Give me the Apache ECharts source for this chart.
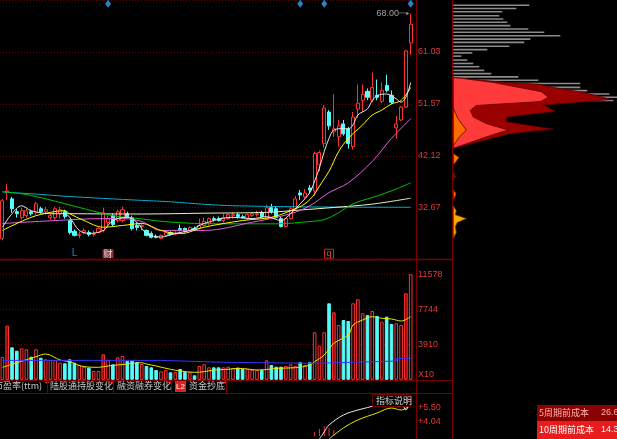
<!DOCTYPE html>
<html><head><meta charset="utf-8">
<script src="https://cdn.jsdelivr.net/npm/echarts@6/dist/echarts.min.js"></script>
<style>html,body{margin:0;padding:0;background:#000;}#c{width:617px;height:439px;}</style>
</head><body><div id="c"></div><script>
// ---------------- data ----------------
const opens = [27.10,35.54,34.28,31.95,30.87,31.23,31.95,31.77,32.49,31.95,
 30.87,30.87,31.59,31.95,30.34,28.36,27.64,28.18,28.18,27.82,
 28.18,28.54,29.98,31.23,30.34,30.34,31.59,30.87,29.44,29.26,
 28.54,28.00,27.46,27.10,27.64,28.18,27.82,28.90,28.90,28.54,
 28.90,28.90,29.44,29.80,30.69,30.69,30.34,30.69,31.23,31.41,
 31.05,30.69,31.23,31.41,31.77,30.69,32.67,32.49,30.69,29.26,
 30.69,32.49,35.36,34.64,36.26,35.72,40.57,44.34,50.08,46.49,
 45.59,47.93,47.03,43.80,50.62,52.24,53.85,52.24,53.13,52.06,
 54.93,53.13,47.21,48.64,50.98,62.65];
const closes = [33.93,35.72,32.49,31.59,32.13,32.13,31.59,33.39,31.95,32.31,
 31.23,32.49,32.31,31.05,28.18,27.64,27.82,28.54,27.82,28.00,
 28.90,31.77,30.69,29.62,31.95,32.31,31.05,28.90,29.08,29.44,
 27.64,27.28,27.28,27.64,28.18,27.82,28.00,28.72,28.36,29.08,
 28.72,29.44,30.16,30.69,30.52,30.34,30.87,31.41,31.41,31.05,
 30.87,31.41,31.59,31.59,31.05,32.67,31.95,30.87,29.26,30.69,
 32.49,34.28,35.00,35.36,35.90,42.54,42.72,50.80,47.57,47.03,
 47.57,46.13,44.34,49.18,51.70,53.31,52.77,54.57,52.77,54.03,
 54.03,51.88,47.93,50.98,61.21,66.06];
const lows = [26.74,34.10,31.77,30.87,30.52,30.87,31.23,31.41,31.59,31.41,
 30.52,30.52,30.69,30.69,27.82,27.46,27.10,27.82,27.46,27.46,
 28.00,28.18,29.26,29.26,29.98,29.98,30.69,28.54,28.54,28.54,
 27.46,27.10,27.10,26.92,27.46,27.64,27.64,28.36,28.18,28.36,
 28.54,28.72,29.26,29.44,30.16,30.16,29.98,30.52,30.69,30.69,
 30.69,30.52,31.05,31.05,30.87,30.52,31.59,30.69,29.08,29.08,
 30.52,32.31,34.10,34.28,35.18,34.82,39.31,43.62,46.85,45.59,
 43.80,45.77,43.44,43.26,49.00,50.08,52.24,51.88,52.24,51.70,
 53.67,51.52,45.24,48.46,50.80,60.49];
const highs = [34.28,36.98,34.64,32.49,32.67,32.49,32.31,33.75,32.85,32.85,
 31.59,32.85,32.85,32.31,30.52,28.72,28.36,28.90,28.54,28.54,
 29.08,32.67,31.23,31.59,32.31,32.85,31.95,31.23,29.98,29.98,
 28.72,28.36,27.82,27.82,28.54,28.36,28.36,29.62,29.08,29.26,
 29.26,30.69,30.87,30.87,31.05,31.05,31.59,31.59,31.77,31.77,
 31.41,31.59,31.77,32.13,32.13,33.21,33.39,32.85,31.05,30.87,
 32.85,34.82,35.90,36.08,36.80,42.90,43.08,51.34,50.44,53.31,
 48.64,48.64,47.39,50.08,55.11,55.11,54.39,57.26,56.00,55.46,
 56.90,54.03,49.36,51.16,61.39,68.00];
const volumes = [2519,5947,3581,3209,3472,3362,2552,3362,2442,2267,
 2190,2190,1894,1829,2267,1894,1642,1456,1347,985,
 985,2815,2190,1719,2486,2628,2113,2113,1971,1752,
 1533,1390,1095,952,1095,843,876,1204,876,843,
 514,1533,1719,1390,1390,1390,1390,1456,1281,1347,
 1204,1204,1095,1095,1095,2157,1642,1456,1456,1533,
 1719,1533,1938,1642,1938,5224,3757,5224,8401,7415,
 6024,6572,6462,8401,8839,7306,7119,7558,7010,6386,
 6933,6134,6210,6024,9496,11578];
const darkVolIdx = [1,21,69,84];
const categories = opens.map((_, i) => 'K' + (i + 1));

// moving averages: [categoryIndex, value]
const ma5 = [[0,29.13],[2,31.59],[4,33.03],[6,32.13],[10,31.59],[13,31.59],[14,30.93],[16,28.54],[18,28.00],[21,28.54],[23,30.34],[26,30.93],[28,30.03],[30,28.00],[33,27.34],[36,28.00],[39,28.54],[42,29.80],[48,30.93],[52,30.69],[55,31.05],[58,30.34],[60,31.59],[62,33.39],[64,35.42],[65,37.52],[66,39.90],[67,42.90],[68,45.29],[69,46.80],[71,47.08],[72,47.00],[73,47.75],[74,49.54],[76,50.67],[77,52.18],[78,53.08],[80,53.37],[82,52.47],[83,51.88],[84,52.77],[85,55.46]];
const ma10 = [[0,28.54],[6,30.93],[10,31.83],[13,32.13],[14,31.59],[17,30.34],[21,29.13],[25,29.44],[29,29.80],[33,28.54],[37,27.95],[42,29.13],[50,30.34],[56,30.93],[60,32.13],[63,33.39],[65,35.18],[66,36.62],[68,39.31],[70,42.90],[72,45.29],[75,47.75],[77,49.54],[79,50.44],[81,51.57],[83,52.18],[85,54.57]];
const ma20 = [[0,29.80],[11,30.34],[21,30.69],[25,30.69],[29,30.16],[33,28.54],[42,28.54],[52,30.03],[60,31.59],[64,33.03],[68,35.42],[72,37.21],[77,41.11],[81,45.29],[85,48.88]];
const ma60 = [[0,35.60],[6,34.90],[16,32.72],[23,31.23],[29,30.64],[35,30.05],[45,29.74],[57,29.74],[64,30.16],[67,30.52],[70,31.77],[73,33.39],[78,34.82],[82,36.08],[85,37.21]];
const ma120 = [[0,35.54],[8,35.09],[12,34.82],[21,34.37],[29,34.01],[35,33.75],[42,33.30],[48,33.03],[69,32.79],[85,32.76]];
const ma250 = [[13,31.59],[29,31.53],[42,31.68],[55,31.83],[62,32.26],[69,32.72],[77,33.33],[85,34.41]];
const volMa5 = [[0,1390],[7,2552],[9,2847],[12,2190],[14,2004],[17,1456],[20,1390],[22,1533],[26,1752],[29,1894],[30,1752],[32,1533],[35,1171],[37,985],[40,843],[42,909],[44,1095],[47,1171],[49,1281],[51,1204],[53,1095],[56,1204],[57,1281],[61,1347],[64,1642],[65,2004],[67,2738],[69,4019],[72,4929],[73,6024],[75,6572],[77,6933],[79,6758],[81,6681],[83,6462],[85,6933]];
const volMaW = [[0,2150],[33,1938],[46,1829],[65,1938],[73,2080],[82,2376],[85,2376]];
const indWhite = [[66,2.27],[67,3.0],[68,3.73],[71,4.77],[74,5.29],[78,5.81],[81,6.33],[83,6.12],[84,5.29],[85,6.54]];
const indYellow = [[68,2.27],[71,3.42],[74,4.25],[78,4.98],[81,5.50],[83,5.29],[85,5.81]];
const indBars = [[65,3.0],[66,3.3],[67,3.6],[68,3.4],[69,3.2]];

const priceTickLabels = ['32.67','42.12','51.57','61.03'];
const volTickLabels = ['X10','3910','7744','11578'];
const indTickLabels = ['+4.04','+5.50'];

// chip distribution (right panel): price levels and widths
const chipGrayPrice = [69.52,68.93,68.34,67.62,67.01,66.42,65.82,65.21,64.62,63.96,63.36,62.77,62.05,61.44,60.85,60.26,59.54,58.93,58.34,57.67,57.08,56.49,55.88,55.29,54.57,53.98,53.37,52.77,52.18];
const chipGrayWidth = [76,63,49,46,50,54,57,75,91,107,77,71,56,34,19,8,14,20,26,31,38,65,85,127,127,134,156,164,160];
const chipOuterPrice = [56.36,56.18,55.46,55.16,54.57,53.67,52.36,51.39,50.21,49.18,48.29,46.98,46.19,43.49];
const chipOuterWidth = [0,10,53,85,100,130,158,90,102,53,53,100,57,0];
const chipInnerPrice = [56.36,56.18,55.46,53.80,52.77,52.00,51.28,50.39,49.18,47.98,46.80,46.00,43.49];
const chipInnerWidth = [0,10,40,88,95,87,23,17,20,33,55,40,0];
const chipOrangePrice = [50.80,48.88,46.80,45.59,43.98];
const chipOrangeWidth = [0,4.7,13,6.3,0];
const blobAPrice = [42.60,41.82,41.10,40.39], blobAWidth = [0,6,3,0];
const blobBPrice = [39.31,38.41,37.52], blobBWidth = [0,2,0];
const blobCPrice = [36.08,35.18,33.93], blobCWidth = [0,3,0];
const blobDPrice = [33.03,32.13,31.41,30.69,29.98,29.26,28.18,27.10], blobDWidth = [0,3,2,13,4,2,3,0];

// ---------------- chart ----------------
const RED = '#ff3232', CYAN = '#54fcfc', FRAME = '#7a0000', LBL = '#e03a3a';
const FONT = 'Liberation Sans, Arial, sans-serif';
const CJK = 'Noto Sans CJK SC, sans-serif';
const candleData = opens.map((o, i) => [o, closes[i], lows[i], highs[i]]);
const volData = volumes.map((v, i) => {
  const up = closes[i] >= opens[i];
  const dark = darkVolIdx.indexOf(i) >= 0;
  return { value: v, itemStyle: {
    color: dark ? '#8a0000' : (up ? '#000' : CYAN),
    borderColor: up ? RED : CYAN, borderWidth: 1 } };
});
const zip = (a, b) => a.map((v, i) => [b[i], v]);

function polySeries(prices, widths, fill, stroke) {
  const pts = zip(prices, widths);
  return { type: 'custom', xAxisIndex: 3, yAxisIndex: 3, data: pts, silent: true,
    renderItem: (params, api) => {
      if (params.dataIndex !== 0) return null;
      return { type: 'polygon', shape: { points: pts.map(p => api.coord(p)) },
        style: { fill: fill, stroke: stroke, lineWidth: 0.8 } };
    } };
}
const lineS = (data, color, xi, extra) => Object.assign({ type: 'line', data: data, xAxisIndex: xi, yAxisIndex: xi,
  symbol: 'none', smooth: 0.35, lineStyle: { color: color, width: 1 }, silent: true, z: 3 }, extra || {});

const catAxis = (gi) => ({ type: 'category', gridIndex: gi, data: categories, boundaryGap: true,
  axisLine: { show: false }, axisTick: { show: false }, axisLabel: { show: false }, splitLine: { show: false } });
const gridDots = { lineStyle: { color: '#6a0000', type: [1, 2], width: 1 } };

const option = {
  backgroundColor: '#000',
  animation: false,
  grid: [
    { left: -4, top: -3.64, width: 417.1, height: 263.3 },
    { left: -4, top: 260, width: 417.1, height: 119.3 },
    { left: -4, top: 394, width: 417.1, height: 42 },
    { left: 453.3, top: -3.64, width: 163.7, height: 263.3 }
  ],
  xAxis: [catAxis(0), catAxis(1), catAxis(2),
    { type: 'value', gridIndex: 3, min: 0, max: 163.7, show: false }],
  yAxis: [
    { type: 'value', gridIndex: 0, position: 'right', min: 23.22, max: 70.48, interval: 9.452,
      axisLine: { show: false }, axisTick: { show: false },
      axisLabel: { margin: 5, color: LBL, fontSize: 9, fontFamily: FONT,
        formatter: (v, i) => priceTickLabels[i - 1] || '' },
      splitLine: gridDots },
    { type: 'value', gridIndex: 1, position: 'right', min: 76, max: 13144, interval: 3834,
      axisLine: { show: false }, axisTick: { show: false },
      axisLabel: { margin: 5, color: LBL, fontSize: 9, fontFamily: FONT,
        formatter: (v, i) => i === 0 ? '{u|' + volTickLabels[0] + '}' : (volTickLabels[i] || ''),
        rich: { u: { color: LBL, fontSize: 9, fontFamily: FONT, padding: [0, 0, 10, 0] } } },
      splitLine: gridDots },
    { type: 'value', gridIndex: 2, position: 'right', min: 2.58, max: 6.96, interval: 1.46,
      axisLine: { show: false }, axisTick: { show: false },
      axisLabel: { margin: 5, color: LBL, fontSize: 9, fontFamily: FONT,
        formatter: (v, i) => indTickLabels[i - 1] || '' },
      splitLine: { show: false } },
    { type: 'value', gridIndex: 3, min: 23.22, max: 70.48, show: false }
  ],
  series: [
    { type: 'candlestick', xAxisIndex: 0, yAxisIndex: 0, data: candleData, barWidth: 3.6, silent: true, z: 2,
      itemStyle: { color: '#000', color0: CYAN, borderColor: RED, borderColor0: CYAN, borderWidth: 1 } },
    { type: 'scatter', xAxisIndex: 0, yAxisIndex: 0, symbol: 'circle', symbolSize: 1, silent: true, z: 6,
      itemStyle: { color: 'rgba(0,0,0,0)' },
      data: [{ value: [85, 68.0],
        label: { show: true, position: 'left', distance: 1, fontFamily: FONT,
          formatter: '{a|68.00}{b|──▸}',
          rich: { a: { color: '#c8c8c8', fontSize: 9, fontFamily: FONT },
                  b: { color: '#c8c8c8', fontSize: 6, fontFamily: 'DejaVu Sans' } } } }] },
    lineS(ma120, '#0aa8c8', 0),
    lineS(ma250, '#f0f0c8', 0),
    lineS(ma60, '#00c000', 0),
    lineS(ma20, '#e060e0', 0),
    lineS(ma10, '#ffff00', 0),
    lineS(ma5, '#e8e8e8', 0),
    { type: 'scatter', xAxisIndex: 0, yAxisIndex: 0, symbol: 'diamond', symbolSize: [6, 8], silent: true, z: 5,
      itemStyle: { color: '#3aa0f0' }, data: [[22, 69.8], [62, 69.8], [67, 69.8], [85, 69.8]] },
    { type: 'scatter', xAxisIndex: 0, yAxisIndex: 0, symbol: 'circle', symbolSize: 1, silent: true, z: 5,
      itemStyle: { color: 'rgba(0,0,0,0)' },
      data: [
        { value: [15, 24.3], label: { show: true, position: 'inside', formatter: 'L', color: '#00b8f0', fontSize: 10, fontFamily: FONT } },
        { value: [22, 24.3], label: { show: true, position: 'inside', formatter: '财', color: '#fff', backgroundColor: '#a84040', fontSize: 9, fontFamily: CJK, padding: [0, 1] } },
        { value: [68, 24.3], label: { show: true, position: 'inside', formatter: 'q', color: '#ff6060', borderColor: RED, borderWidth: 1, fontSize: 9, fontFamily: FONT, padding: [0, 2] } }
      ] },
    { type: 'bar', xAxisIndex: 1, yAxisIndex: 1, data: volData, barWidth: 3.6, silent: true },
    lineS(volMa5, '#e8e800', 1),
    lineS(volMaW, '#3434ff', 1, { smooth: false, step: 'end' }),
    { type: 'bar', xAxisIndex: 2, yAxisIndex: 2, data: indBars, barWidth: 1, silent: true, itemStyle: { color: RED } },
    lineS(indYellow, '#e8e800', 2, { clip: false }),
    lineS(indWhite, '#e8e8e8', 2, { clip: false }),
    { type: 'custom', xAxisIndex: 3, yAxisIndex: 3, data: zip(chipGrayPrice, chipGrayWidth), silent: true,
      renderItem: (params, api) => {
        const a = api.coord([0, api.value(1)]), b = api.coord([api.value(0), api.value(1)]);
        return { type: 'rect', shape: { x: a[0], y: a[1] - 0.8, width: b[0] - a[0], height: 1.6 }, style: { fill: '#8c8c8c' } };
      } },
    polySeries(chipOuterPrice, chipOuterWidth, '#9a0000', '#5a0000'),
    polySeries(chipInnerPrice, chipInnerWidth, '#ff3a3a', '#600000'),
    polySeries(chipOrangePrice, chipOrangeWidth, '#ff6a00', '#401000'),
    polySeries(blobAPrice, blobAWidth, '#ff7000', '#401000'),
    polySeries(blobBPrice, blobBWidth, '#8a3800', '#401000'),
    polySeries(blobCPrice, blobCWidth, '#ff7000', '#401000'),
    polySeries(blobDPrice, blobDWidth, '#ffa800', '#604000')
  ],
  graphic: [
    { type: 'line', z: 50, shape: { x1: 416.5, y1: 0, x2: 416.5, y2: 439 }, style: { stroke: FRAME, lineWidth: 1 } },
    { type: 'line', z: 50, shape: { x1: 452.5, y1: 0, x2: 452.5, y2: 439 }, style: { stroke: FRAME, lineWidth: 1 } },
    { type: 'line', z: 50, shape: { x1: 0, y1: 259.5, x2: 452.5, y2: 259.5 }, style: { stroke: FRAME, lineWidth: 1.5 } },
    { type: 'line', z: 50, shape: { x1: 0, y1: 380.5, x2: 452.5, y2: 380.5 }, style: { stroke: FRAME, lineWidth: 1 } },
    { type: 'line', z: 50, shape: { x1: 0, y1: 393.5, x2: 452.5, y2: 393.5 }, style: { stroke: FRAME, lineWidth: 1 } },
    { type: 'text', z: 50, x: -6, y: 386, style: { text: '市盈率(ttm)', fill: '#c8c8c8', font: '9px ' + CJK, verticalAlign: 'middle' } },
    { type: 'text', z: 50, x: 50, y: 386, style: { text: '陆股通持股变化', fill: '#c8c8c8', font: '9px ' + CJK, verticalAlign: 'middle' } },
    { type: 'text', z: 50, x: 117, y: 386, style: { text: '融资融券变化', fill: '#c8c8c8', font: '9px ' + CJK, verticalAlign: 'middle' } },
    { type: 'rect', z: 50, shape: { x: 175, y: 381, width: 11, height: 11 }, style: { fill: '#e02020' } },
    { type: 'text', z: 51, x: 176, y: 386.5, style: { text: 'L2', fill: '#fff', font: '8px ' + FONT, verticalAlign: 'middle' } },
    { type: 'text', z: 50, x: 189, y: 386, style: { text: '资金抄底', fill: '#c8c8c8', font: '9px ' + CJK, verticalAlign: 'middle' } },
    { type: 'text', z: 50, x: 45, y: 380, style: { text: '+', fill: '#ff3030', font: 'bold 7px ' + FONT } },
    { type: 'text', z: 50, x: 110, y: 380, style: { text: '+', fill: '#ff3030', font: 'bold 7px ' + FONT } },
    { type: 'text', z: 50, x: 168, y: 380, style: { text: '+', fill: '#ff3030', font: 'bold 7px ' + FONT } },
    { type: 'text', z: 50, x: 223, y: 380, style: { text: '+', fill: '#ff3030', font: 'bold 7px ' + FONT } },
    { type: 'line', z: 50, shape: { x1: 47.5, y1: 381, x2: 47.5, y2: 393 }, style: { stroke: FRAME } },
    { type: 'line', z: 50, shape: { x1: 113.5, y1: 381, x2: 113.5, y2: 393 }, style: { stroke: FRAME } },
    { type: 'line', z: 50, shape: { x1: 171.5, y1: 381, x2: 171.5, y2: 393 }, style: { stroke: FRAME } },
    { type: 'line', z: 50, shape: { x1: 226.5, y1: 381, x2: 226.5, y2: 393 }, style: { stroke: FRAME } },
    { type: 'rect', z: 50, shape: { x: 372.5, y: 394.5, width: 38, height: 12 }, style: { fill: '#000', stroke: FRAME } },
    { type: 'text', z: 51, x: 376, y: 401, style: { text: '指标说明', fill: '#d0d0d0', font: '9px ' + CJK, verticalAlign: 'middle' } },
    { type: 'rect', z: 50, shape: { x: 537, y: 405, width: 80, height: 16 }, style: { fill: '#8c0000' } },
    { type: 'rect', z: 50, shape: { x: 537, y: 421, width: 80, height: 18 }, style: { fill: '#e81c1c' } },
    { type: 'text', z: 51, x: 539, y: 413, style: { text: '5周期前成本', fill: '#ffb0b0', font: '9px ' + CJK, verticalAlign: 'middle' } },
    { type: 'text', z: 51, x: 601, y: 413, style: { text: '26.6', fill: '#ffb0b0', font: '9px ' + FONT, verticalAlign: 'middle' } },
    { type: 'text', z: 51, x: 539, y: 430, style: { text: '10周期前成本', fill: '#fff', font: '9px ' + CJK, verticalAlign: 'middle' } },
    { type: 'text', z: 51, x: 601, y: 430, style: { text: '14.3', fill: '#fff', font: '9px ' + FONT, verticalAlign: 'middle' } }
  ]
};
const chart = echarts.init(document.getElementById('c'), null, { renderer: 'canvas' });
chart.setOption(option);
</script></body></html>
